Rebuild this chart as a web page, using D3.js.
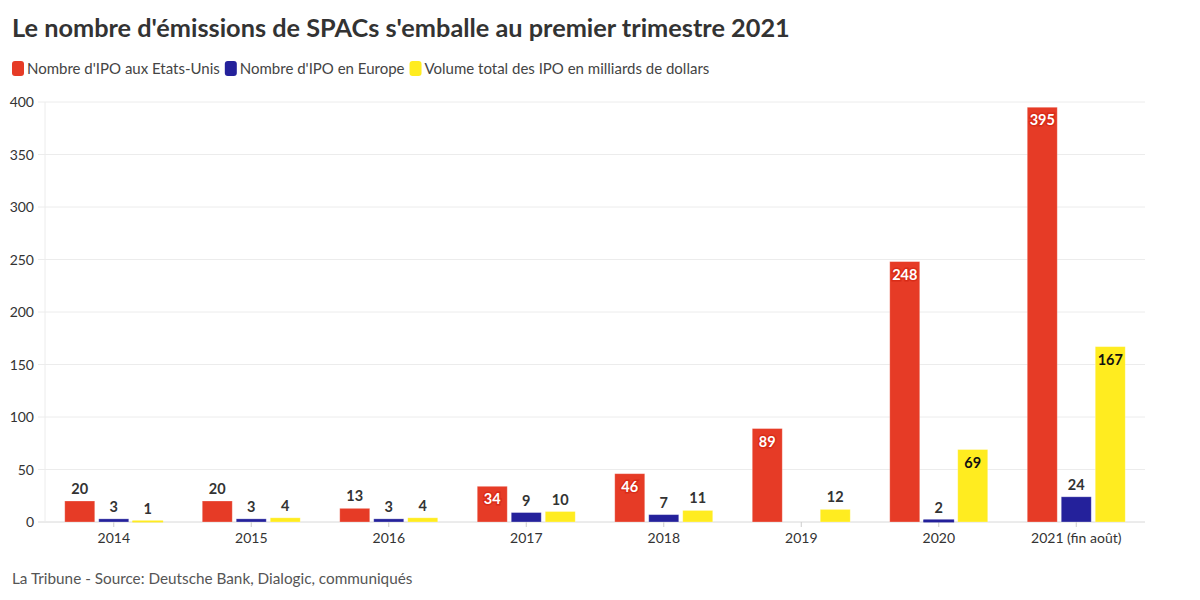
<!DOCTYPE html>
<html>
<head>
<meta charset="utf-8">
<script src="https://cdn.jsdelivr.net/npm/d3@7"></script>
<style>
  body { margin: 0; background: #fff; font-family: Lato, "Open Sans", sans-serif; }
  svg text { font-family: Lato, "Open Sans", sans-serif; }
</style>
</head>
<body>
<svg id="chart"></svg>
<script>
// data
const years = ["2014", "2015", "2016", "2017", "2018", "2019", "2020", "2021 (fin août)"];
const seriesNames = ["Nombre d'IPO aux Etats-Unis", "Nombre d'IPO en Europe", "Volume total des IPO en milliards de dollars"];
const ipoUS = [20, 20, 13, 34, 46, 89, 248, 395];
const ipoEurope = [3, 3, 3, 9, 7, null, 2, 24];
const volumeIPO = [1, 4, 4, 10, 11, 12, 69, 167];
const yTicks = [0, 50, 100, 150, 200, 250, 300, 350, 400];

const colors = ["#e63b26", "#24219b", "#ffec20"];
const insideText = ["#fff", "#fff", "#111"];
const insideHalo = ["#d92c17", "#24219b", "none"];

const width = 1200, height = 600;
const margin = { top: 102, right: 55, bottom: 78, left: 45 };

const svg = d3.select('#chart')
  .attr('width', width)
  .attr('height', height);

// title
svg.append('text')
  .attr('x', 12)
  .attr('y', 37)
  .text("Le nombre d'émissions de SPACs s'emballe au premier trimestre 2021")
  .style('font-size', '25.3px')
  .style('font-weight', '700')
  .style('fill', '#333');

// legend
let lx = 12;
seriesNames.forEach((name, i) => {
  const g = svg.append('g').attr('transform', `translate(${lx},61)`);
  g.append('rect')
    .attr('width', 12).attr('height', 15)
    .attr('rx', 3)
    .attr('fill', colors[i]);
  const t = g.append('text')
    .attr('x', 15).attr('y', 13)
    .text(name)
    .style('font-size', '15px')
    .style('fill', '#444');
  lx += 15 + t.node().getComputedTextLength() + 5;
});

const rows = years.map((y, i) => ({ year: y, values: [ipoUS[i], ipoEurope[i], volumeIPO[i]] }));

const x0 = d3.scaleBand()
  .domain(years)
  .range([margin.left, width - margin.right]);

const x1 = d3.scaleBand()
  .domain([0, 1, 2])
  .range([0, x0.bandwidth()])
  .paddingInner(0.1176)
  .paddingOuter(0.581);

const y = d3.scaleLinear()
  .domain([0, 400])
  .range([height - margin.bottom, margin.top]);

// grid
const grid = svg.append('g');
grid.selectAll('line')
  .data(yTicks)
  .enter()
  .append('line')
  .attr('x1', margin.left - 7)
  .attr('x2', width - margin.right)
  .attr('y1', d => y(d))
  .attr('y2', d => y(d))
  .attr('stroke', d => d === 0 ? '#d8d8d8' : '#ececec')
  .attr('stroke-width', 1);

grid.append('line')
  .attr('x1', margin.left).attr('x2', margin.left)
  .attr('y1', y(400)).attr('y2', y(0))
  .attr('stroke', '#ececec');

// y labels
svg.append('g').selectAll('text')
  .data(yTicks)
  .enter()
  .append('text')
  .attr('x', 34)
  .attr('y', d => y(d) + 5)
  .attr('text-anchor', 'end')
  .text(d => d)
  .style('font-size', '14px')
  .style('fill', '#333');

// x axis
const xAxis = svg.append('g')
  .attr('transform', `translate(0,${y(0)})`)
  .call(d3.axisBottom(x0).tickSize(5).tickSizeOuter(0));
xAxis.select('.domain').remove();
xAxis.selectAll('.tick line').attr('stroke', '#ccc');
xAxis.selectAll('.tick text')
  .attr('dy', '0.9em')
  .style('font-size', '14px')
  .style('font-family', 'Lato, sans-serif')
  .style('fill', '#333');

// bars
const groups = svg.append('g').selectAll('g.year')
  .data(rows)
  .enter()
  .append('g')
  .attr('class', 'year')
  .attr('transform', d => `translate(${x0(d.year)},0)`);

const cells = groups.selectAll('g.cell')
  .data(d => d.values.map((v, i) => ({ v, i })).filter(c => c.v != null))
  .enter()
  .append('g')
  .attr('class', 'cell');

cells.append('rect')
  .attr('x', c => x1(c.i))
  .attr('width', x1.bandwidth())
  .attr('y', c => y(c.v))
  .attr('height', c => y(0) - y(c.v))
  .attr('fill', c => colors[c.i])
  .attr('stroke', c => c.v < 3 ? colors[c.i] : 'rgba(255,255,255,0.35)')
  .attr('stroke-width', 0.8);

// value labels, inside bar if tall enough
const isInside = c => y(0) - y(c.v) > 30;
cells.append('text')
  .attr('x', c => x1(c.i) + x1.bandwidth() / 2)
  .attr('y', c => isInside(c) ? y(c.v) + 18 : y(c.v) - 7)
  .attr('text-anchor', 'middle')
  .text(c => c.v)
  .style('font-size', '14.5px')
  .style('font-weight', '700')
  .style('fill', c => isInside(c) ? insideText[c.i] : '#333')
  .style('stroke', c => isInside(c) ? insideHalo[c.i] : 'none')
  .style('stroke-width', '3px')
  .style('paint-order', 'stroke');

// footer
svg.append('text')
  .attr('x', 12)
  .attr('y', 584)
  .text("La Tribune - Source: Deutsche Bank, Dialogic, communiqués")
  .style('font-size', '15.3px')
  .style('fill', '#555');
</script>
</body>
</html>
